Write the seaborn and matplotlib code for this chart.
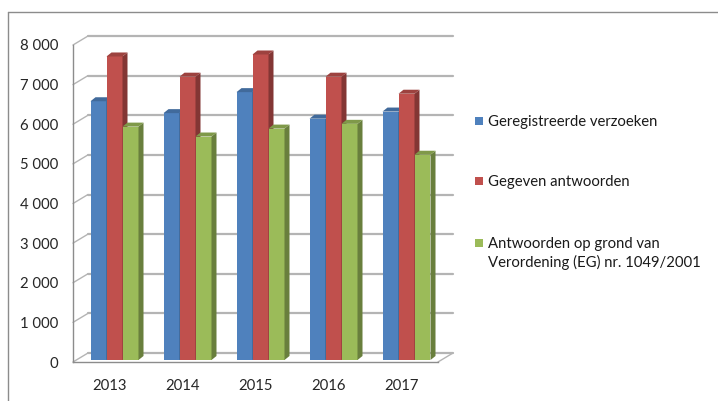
import pandas as pd
import matplotlib.pyplot as plt
import seaborn as sns
from matplotlib.patches import Polygon, Rectangle
from matplotlib.lines import Line2D
from matplotlib.transforms import IdentityTransform
from matplotlib.ticker import FixedLocator
import matplotlib.colors as mcolors

# Data
years = ['2013', '2014', '2015', '2016', '2017']
series = ['Geregistreerde verzoeken',
          'Gegeven antwoorden',
          'Antwoorden op grond van\nVerordening (EG) nr. 1049/2001']
registered = [6530, 6230, 6760, 6090, 6270]
answered = [7660, 7150, 7710, 7150, 6720]
answered_1049 = [5890, 5640, 5840, 5960, 5180]
ytick_values = [0, 1000, 2000, 3000, 4000, 5000, 6000, 7000, 8000]
ytick_labels = ['0', '1 000', '2 000', '3 000', '4 000', '5 000', '6 000', '7 000', '8 000']

colors = ['#4F81BD', '#C0504D', '#9BBB59']

df = pd.DataFrame({
    'year': years * 3,
    'series': [series[0]] * 5 + [series[1]] * 5 + [series[2]] * 5,
    'value': registered + answered + answered_1049,
})

sns.set_style('white')
plt.rcParams['font.family'] = ['Lato', 'DejaVu Sans']

W, H = 718, 401
fig = plt.figure(figsize=(W / 100, H / 100), dpi=100)
# front plane of the 3D chart: x 73..438 px, y 0 -> 362 px, 8000 -> 45 px (from top)
ax = fig.add_axes([73 / W, (H - 362) / H, (438 - 73) / W, (362 - 45) / H])

sns.barplot(data=df, x='year', y='value', hue='series', hue_order=series,
            palette=colors, saturation=1, width=48 / 73, gap=0,
            legend=False, ax=ax, zorder=3)

ax.set_xlim(-0.5, 4.5)
ax.set_ylim(0, 8000)
ax.set_yticks(ytick_values)
ax.set_yticklabels(ytick_labels)
ax.set_xlabel('')
ax.set_ylabel('')
for s in ['top', 'right']:
    ax.spines[s].set_visible(False)
for s in ['left', 'bottom']:
    ax.spines[s].set_color('#8C8C8C')
    ax.spines[s].set_linewidth(1.0)
ax.patch.set_alpha(0)

ax.tick_params(axis='y', length=3.6, width=0.8, color='#8C8C8C', pad=7, labelsize=10.7)
ax.tick_params(axis='x', which='major', length=0, pad=12, labelsize=10.7)
ax.xaxis.set_minor_locator(FixedLocator([i - 0.5 for i in range(len(years) + 1)]))
ax.tick_params(axis='x', which='minor', length=3.6, width=0.8, color='#8C8C8C')

# 3D decorations in pixel space
fig.canvas.draw()
ident = IdentityTransform()
depth_dx, depth_dy = 15, 9
grid_col = '#B4B4B4'
for v in ytick_values:
    (xl, y), (xr, _) = ax.transData.transform([(-0.5, v), (4.5, v)])
    fig.add_artist(Line2D([xl + depth_dx, xr + depth_dx], [y + depth_dy, y + depth_dy],
                          transform=ident, color=grid_col, lw=1.6, zorder=0))
    fig.add_artist(Line2D([xl, xl + depth_dx], [y, y + depth_dy],
                          transform=ident, color=grid_col, lw=1.0, zorder=0))
(xl, y0), (xr, _) = ax.transData.transform([(-0.5, 0), (4.5, 0)])
fig.add_artist(Line2D([xr, xr + depth_dx], [y0, y0 + depth_dy],
                      transform=ident, color=grid_col, lw=1.0, zorder=0))

# bar side and top faces
bx, by = 5, 2   # bars sit a bit behind the front plane
sx, sy = 5, 4   # bar depth
for p in ax.patches:
    x0, yb = p.get_x(), p.get_y()
    x1, yt = x0 + p.get_width(), yb + p.get_height()
    (px0, py0), (px1, py1) = ax.transData.transform([(x0, yb), (x1, yt)])
    px0 += bx; px1 += bx; py0 += by; py1 += by
    base = mcolors.to_rgb(p.get_facecolor())
    side = tuple(c * 0.68 for c in base)
    top = tuple(c * 0.82 for c in base)
    p.set_visible(False)
    fig.add_artist(Polygon([(px0, py0), (px1, py0), (px1, py1), (px0, py1)],
                           closed=True, transform=ident, facecolor=base,
                           edgecolor='none', zorder=3))
    fig.add_artist(Polygon([(px1, py0), (px1 + sx, py0 + sy), (px1 + sx, py1 + sy), (px1, py1)],
                           closed=True, transform=ident, facecolor=side,
                           edgecolor='none', zorder=3))
    fig.add_artist(Polygon([(px0, py1), (px1, py1), (px1 + sx, py1 + sy), (px0 + sx, py1 + sy)],
                           closed=True, transform=ident, facecolor=top,
                           edgecolor='none', zorder=3))

# chart frame (left and top edges visible)
fig.add_artist(Line2D([8, 8], [0, H - 12], transform=ident, color='#8C8C8C', lw=1.0))
fig.add_artist(Line2D([8, W], [H - 12, H - 12], transform=ident, color='#8C8C8C', lw=1.0))

# legend: square key aligned with the first text line
legend_y = [121, 181, 243]   # pixel rows (from top) of the key centres
for label, c, yc in zip(series, colors, legend_y):
    fig.add_artist(Rectangle((475, H - yc - 4), 8, 8, transform=ident,
                             facecolor=c, edgecolor='none'))
    for i, line in enumerate(label.split('\n')):
        fig.text(488 / W, (H - yc - 5 - 19 * i) / H, line, ha='left', va='baseline',
                 fontsize=10.7, color='#1A1A1A')

fig.savefig('out.png', dpi=100)
